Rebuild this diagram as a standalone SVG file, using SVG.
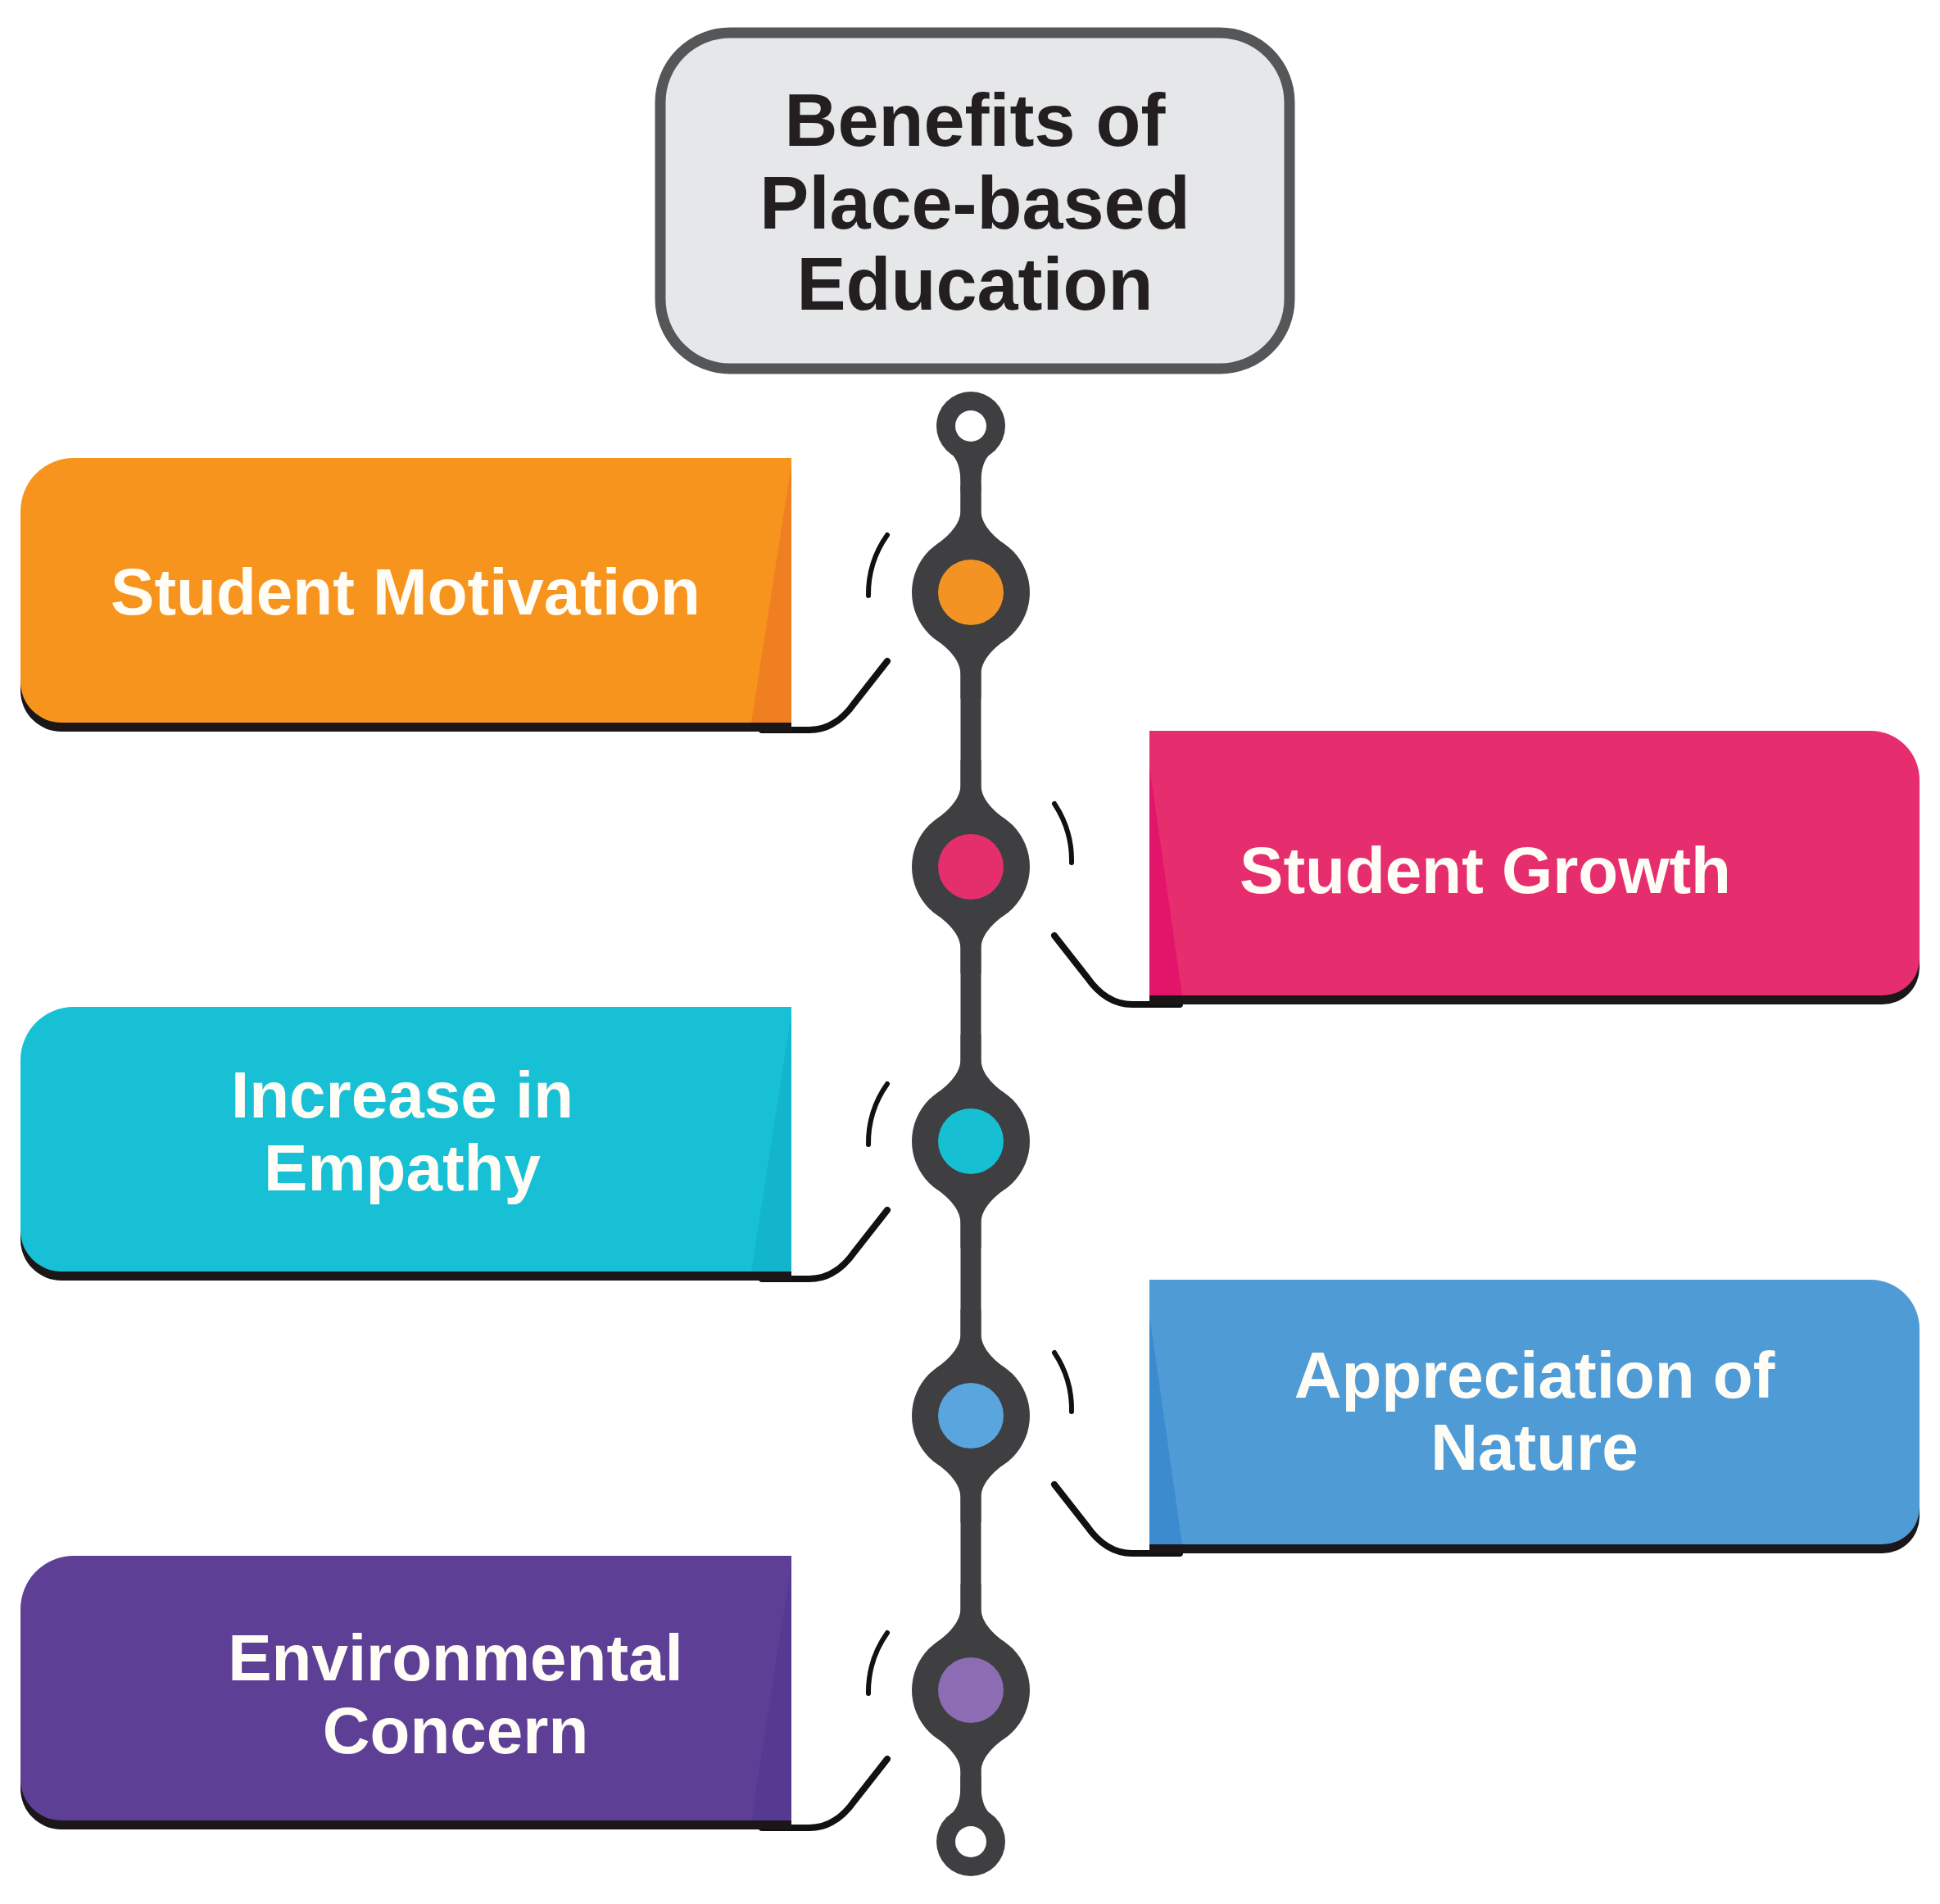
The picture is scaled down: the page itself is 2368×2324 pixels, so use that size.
<svg xmlns="http://www.w3.org/2000/svg" width="2368" height="2324" viewBox="0 0 2368 2324">
<style>
.title{font-family:"Liberation Sans",Arial,sans-serif;font-weight:bold;font-size:90px;fill:#231f20;text-anchor:middle}
.lbl{font-family:"Liberation Sans",Arial,sans-serif;font-weight:bold;font-size:80px;fill:#fffdf6;text-anchor:middle}
.shadow{fill:#1b1718}
.deco{fill:none;stroke:#111;stroke-width:8;stroke-linecap:round;stroke-linejoin:round}
.arc{fill:none;stroke:#111;stroke-width:6;stroke-linecap:round}
.spine{fill:#3f3e40}
</style>
<defs>
<path id="lbox" d="M966,0 H90 A65,65 0 0 0 25,65 V273 A50,50 0 0 0 75,323 H966 Z"/>
<path id="rbox" d="M1403,0 H2283 A60,60 0 0 1 2343,60 V278 A45,45 0 0 1 2298,323 H1403 Z"/>
<g id="knob" class="spine">
<path d="M-12.5,-130 V-100 C-12.5,-84 -25.8,-69.8 -42,-58 L42,-58 C25.8,-69.8 12.5,-84 12.5,-100 V-130 Z"/>
<path d="M-12.5,130 V100 C-12.5,84 -25.8,69.8 -42,58 L42,58 C25.8,69.8 12.5,84 12.5,100 V130 Z"/>
<circle r="72"/>
</g>
</defs>
<rect width="2368" height="2324" fill="#ffffff"/>

<g id="title">
<rect x="806" y="40" width="768" height="410" rx="85" ry="85" fill="#e6e7e8" stroke="#555658" stroke-width="13"/>
<text class="title" x="1190" y="178">Benefits of</text>
<text class="title" x="1190" y="279">Place-based</text>
<text class="title" x="1190" y="378">Education</text>
</g>

<g id="connectors">
<rect class="spine" x="1172.5" y="520" width="25" height="1728"/>
<circle class="spine" cx="1185" cy="520" r="42"/>
<path class="spine" d="M1172.5,600 V588 C1172.5,575 1169.6,560.2 1160,553 L1210,553 C1200.4,560.2 1197.5,575 1197.5,588 V600 Z"/>
<circle class="spine" cx="1185" cy="2248" r="42"/>
<path class="spine" d="M1172.5,2168 V2180 C1172.5,2193 1169.6,2207.8 1160,2215 L1210,2215 C1200.4,2207.8 1197.5,2193 1197.5,2180 V2168 Z"/>
<circle cx="1185" cy="520" r="19" fill="#fff"/>
<circle cx="1185" cy="2248" r="19" fill="#fff"/>
<path class="arc" d="M1083,653 A125,125 0 0 0 1060,727"/>
<path class="deco" d="M1083,807 L1043,858 Q1020,891 988,891 H930"/>
<path class="arc" d="M1287,981 A125,125 0 0 1 1308,1053"/>
<path class="deco" d="M1287,1142 L1327,1193 Q1350,1226 1382,1226 H1440"/>
<path class="arc" d="M1083,1323 A125,125 0 0 0 1060,1397"/>
<path class="deco" d="M1083,1477 L1043,1528 Q1020,1561 988,1561 H930"/>
<path class="arc" d="M1287,1651 A125,125 0 0 1 1308,1723"/>
<path class="deco" d="M1287,1812 L1327,1863 Q1350,1896 1382,1896 H1440"/>
<path class="arc" d="M1083,1993 A125,125 0 0 0 1060,2067"/>
<path class="deco" d="M1083,2147 L1043,2198 Q1020,2231 988,2231 H930"/>
</g>

<g id="node-motivation">
<use href="#lbox" class="shadow" transform="translate(0,570)"/>
<use href="#lbox" fill="#f7941d" transform="translate(0,559)"/>
<polygon points="966,567 966,882 917,882" fill="#f07f22"/>
<text class="lbl" x="495" y="750">Student Motivation</text>
<use href="#knob" transform="translate(1185,723)"/>
<circle cx="1185" cy="723" r="40" fill="#f39323"/>
</g>

<g id="node-growth">
<use href="#rbox" class="shadow" transform="translate(0,903)"/>
<use href="#rbox" fill="#e62e6e" transform="translate(0,892)"/>
<polygon points="1403,935 1403,1215 1443,1215" fill="#e2156a"/>
<text class="lbl" x="1813" y="1090">Student Growth</text>
<use href="#knob" transform="translate(1185,1058)"/>
<circle cx="1185" cy="1058" r="40" fill="#e52f6d"/>
</g>

<g id="node-empathy">
<use href="#lbox" class="shadow" transform="translate(0,1240)"/>
<use href="#lbox" fill="#17c0d4" transform="translate(0,1229)"/>
<polygon points="966,1237 966,1552 917,1552" fill="#13b5cc"/>
<text class="lbl" x="491" y="1364">Increase in</text>
<text class="lbl" x="491" y="1453">Empathy</text>
<use href="#knob" transform="translate(1185,1393)"/>
<circle cx="1185" cy="1393" r="40" fill="#17bfd3"/>
</g>

<g id="node-nature">
<use href="#rbox" class="shadow" transform="translate(0,1573)"/>
<use href="#rbox" fill="#4f9bd6" transform="translate(0,1562)"/>
<polygon points="1403,1605 1403,1885 1443,1885" fill="#3b8bce"/>
<text class="lbl" x="1873" y="1706">Appreciation of</text>
<text class="lbl" x="1873" y="1794">Nature</text>
<use href="#knob" transform="translate(1185,1728)"/>
<circle cx="1185" cy="1728" r="40" fill="#5aa5de"/>
</g>

<g id="node-environment">
<use href="#lbox" class="shadow" transform="translate(0,1910)"/>
<use href="#lbox" fill="#5e3f96" transform="translate(0,1899)"/>
<polygon points="966,1907 966,2222 917,2222" fill="#563a91"/>
<text class="lbl" x="556" y="2051">Environmental</text>
<text class="lbl" x="556" y="2140">Concern</text>
<use href="#knob" transform="translate(1185,2063)"/>
<circle cx="1185" cy="2063" r="40" fill="#8c6cb2"/>
</g>
</svg>
